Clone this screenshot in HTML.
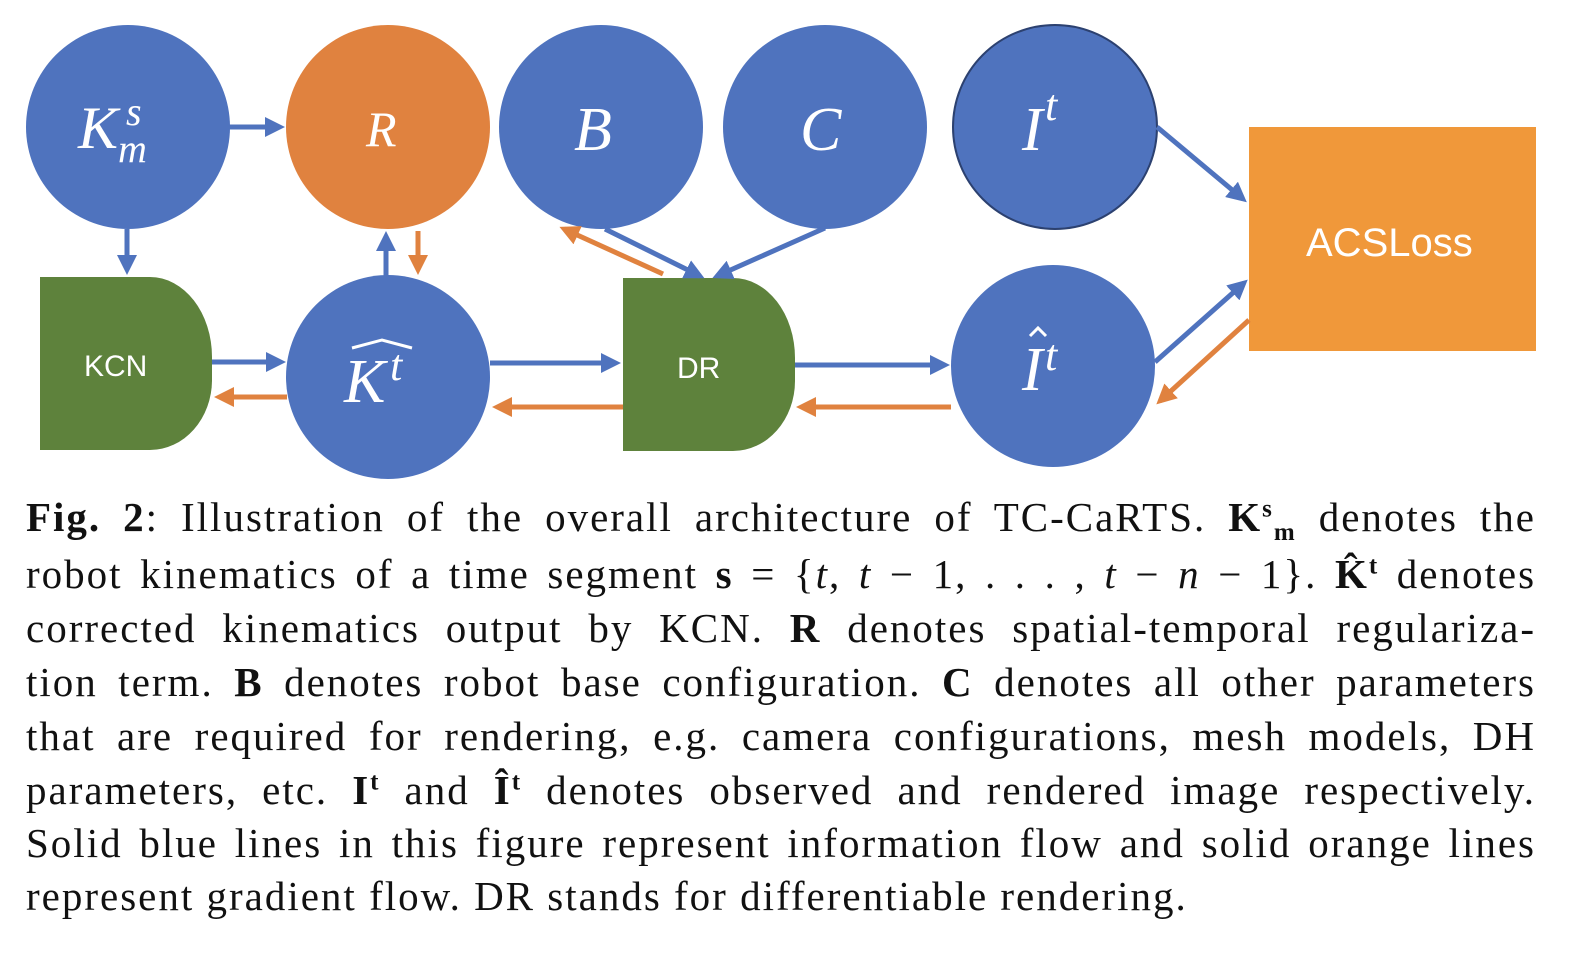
<!DOCTYPE html>
<html><head><meta charset="utf-8"><style>
body{margin:0;background:#fff;width:1588px;height:966px;overflow:hidden;position:relative}
svg{position:absolute;left:0;top:0}
.l{position:absolute;left:26px;width:1510px;height:44px;font-family:"Liberation Serif",serif;font-size:41px;line-height:44px;letter-spacing:2px;text-align:justify;text-align-last:justify;white-space:nowrap;color:#111}
.l.last{text-align-last:left}
.l sup,.l sub{font-size:25px;line-height:0}
.m{font-style:italic}
</style></head><body>
<svg width="1588" height="480" viewBox="0 0 1588 480">
<defs>
<marker id="bh" markerWidth="4" markerHeight="4" refX="3" refY="2" orient="auto" markerUnits="strokeWidth"><path d="M0,0L4,2L0,4z" fill="#4F73BE"/></marker>
<marker id="oh" markerWidth="4" markerHeight="4" refX="3" refY="2" orient="auto" markerUnits="strokeWidth"><path d="M0,0L4,2L0,4z" fill="#E0823F"/></marker>
</defs>
<g fill="#4F73BE">
<ellipse cx="128" cy="127" rx="102" ry="102"/>
<ellipse cx="601" cy="127" rx="102" ry="102"/>
<ellipse cx="825" cy="127" rx="102" ry="102"/>
<ellipse cx="1055" cy="127" rx="102" ry="102" stroke="#2c4170" stroke-width="2"/>
<ellipse cx="388" cy="377" rx="102" ry="102"/>
<ellipse cx="1053" cy="366" rx="102" ry="101"/>
</g>
<ellipse cx="388" cy="127" rx="102" ry="102" fill="#E0823F"/>
<rect x="1249" y="127" width="287" height="224" fill="#F0983A"/>
<path d="M40,277H150A62,80 0 0 1 212,357V380A62,70 0 0 1 150,450H40Z" fill="#5E823C"/>
<path d="M623,278H733A62,80 0 0 1 795,358V381A62,70 0 0 1 733,451H623Z" fill="#5E823C"/>
<g stroke-width="5" fill="none">
<line x1="229" y1="127" x2="280" y2="127" stroke="#4F73BE" marker-end="url(#bh)"/>
<line x1="127" y1="229" x2="127" y2="270" stroke="#4F73BE" marker-end="url(#bh)"/>
<line x1="386" y1="276" x2="386" y2="236" stroke="#4F73BE" marker-end="url(#bh)"/>
<line x1="418" y1="231" x2="418" y2="270" stroke="#E0823F" marker-end="url(#oh)"/>
<line x1="212" y1="362" x2="281" y2="362" stroke="#4F73BE" marker-end="url(#bh)"/>
<line x1="287" y1="397" x2="219" y2="397" stroke="#E0823F" marker-end="url(#oh)"/>
<line x1="490" y1="363" x2="616" y2="363" stroke="#4F73BE" marker-end="url(#bh)"/>
<line x1="623" y1="407" x2="497" y2="407" stroke="#E0823F" marker-end="url(#oh)"/>
<line x1="605" y1="229" x2="700" y2="276" stroke="#4F73BE" marker-end="url(#bh)"/>
<line x1="663" y1="274" x2="564" y2="229" stroke="#E0823F" marker-end="url(#oh)"/>
<line x1="825" y1="228" x2="717" y2="276" stroke="#4F73BE" marker-end="url(#bh)"/>
<line x1="795" y1="365" x2="945" y2="365" stroke="#4F73BE" marker-end="url(#bh)"/>
<line x1="951" y1="407" x2="801" y2="407" stroke="#E0823F" marker-end="url(#oh)"/>
<line x1="1157" y1="127" x2="1243" y2="199" stroke="#4F73BE" marker-end="url(#bh)"/>
<line x1="1155" y1="362" x2="1244" y2="283" stroke="#4F73BE" marker-end="url(#bh)"/>
<line x1="1249" y1="320" x2="1160" y2="401" stroke="#E0823F" marker-end="url(#oh)"/>
</g>
<g fill="#fff" font-family="Liberation Serif,serif" font-style="italic">
<text x="78" y="148" font-size="60">K</text><text x="126" y="125" font-size="40">s</text><text x="118" y="162" font-size="40">m</text>
<text x="366" y="146" font-size="50">R</text>
<text x="574" y="150" font-size="62">B</text>
<text x="800" y="150" font-size="62">C</text>
<text x="1022" y="150" font-size="62">I</text><text x="1045" y="120" font-size="44">t</text>
<text x="344" y="402" font-size="62">K</text><text x="390" y="380" font-size="44">t</text>
<text x="1022" y="390" font-size="62">I</text><text x="1045" y="370" font-size="44">t</text>
</g>
<g fill="none" stroke="#fff" stroke-width="3"><path d="M352,348L382,340L412,348"/><path d="M1030,336L1038,328L1046,336"/></g>
<g fill="#fff" font-family="Liberation Sans,sans-serif">
<text x="84" y="376" font-size="30">KCN</text>
<text x="677" y="378" font-size="30">DR</text>
<text x="1306" y="256" font-size="40">ACSLoss</text>
</g>
</svg>
<div class="l" style="top:495px"><b>Fig. 2</b>: Illustration of the overall architecture of TC-CaRTS. <b>K<sup>s</sup><sub>m</sub></b> denotes the</div>
<div class="l" style="top:552px">robot kinematics of a time segment <b>s</b> = {<span class="m">t</span>, <span class="m">t</span> − 1, . . . , <span class="m">t</span> − <span class="m">n</span> − 1}. <b>K̂<sup>t</sup></b> denotes</div>
<div class="l" style="top:606px">corrected kinematics output by KCN. <b>R</b> denotes spatial-temporal regulariza-</div>
<div class="l" style="top:660px">tion term. <b>B</b> denotes robot base configuration. <b>C</b> denotes all other parameters</div>
<div class="l" style="top:714px">that are required for rendering, e.g. camera configurations, mesh models, DH</div>
<div class="l" style="top:768px">parameters, etc. <b>I<sup>t</sup></b> and <b>Î<sup>t</sup></b> denotes observed and rendered image respectively.</div>
<div class="l" style="top:821px">Solid blue lines in this figure represent information flow and solid orange lines</div>
<div class="l last" style="top:874px">represent gradient flow. DR stands for differentiable rendering.</div>
</body></html>
